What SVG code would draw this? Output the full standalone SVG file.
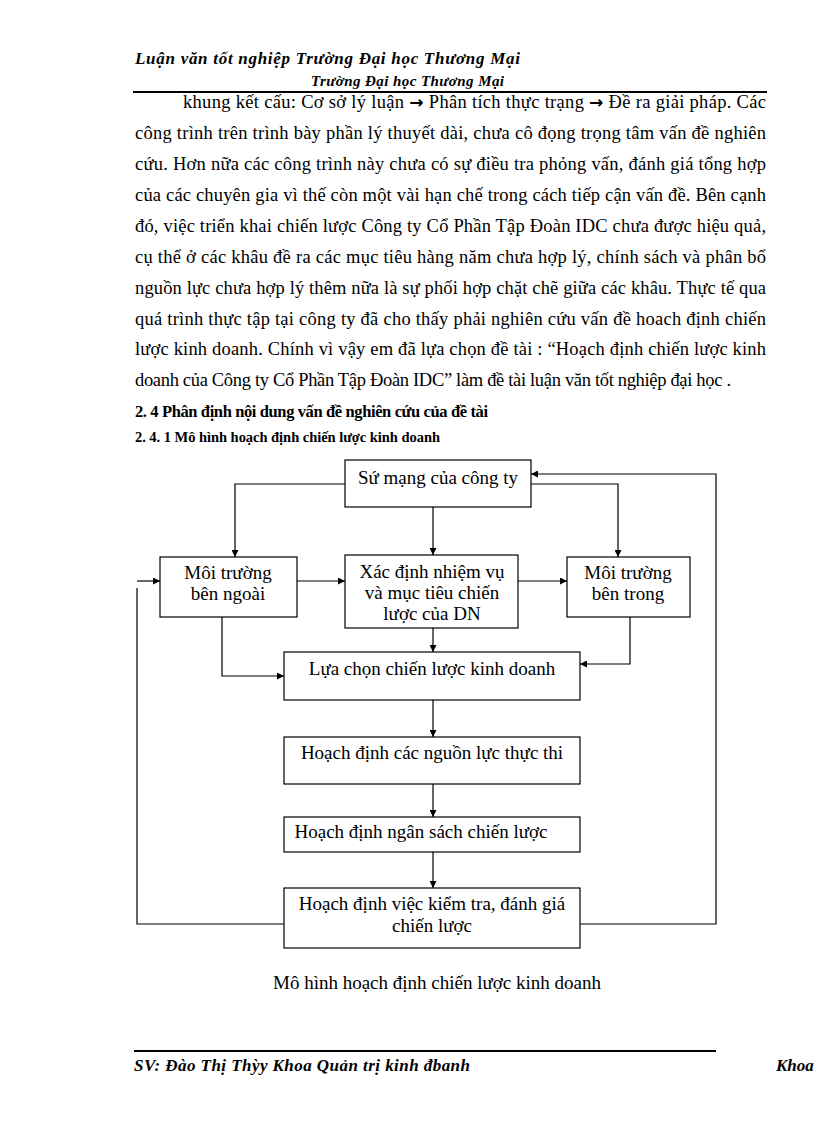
<svg xmlns="http://www.w3.org/2000/svg" width="816" height="1123" viewBox="0 0 816 1123">
<style>
.hd{font-family:"Liberation Serif",serif;font-weight:bold;font-style:italic;font-size:17px;fill:#000}
.hd2{font-family:"Liberation Serif",serif;font-weight:bold;font-style:italic;font-size:15px;fill:#000}
.bd{font-family:"Liberation Serif",serif;font-size:18.5px;fill:#000}
.ar{font-family:"DejaVu Sans",sans-serif;font-weight:bold;font-size:17px}
.h2{font-family:"Liberation Serif",serif;font-weight:bold;font-size:16.5px;fill:#000}
.h3{font-family:"Liberation Serif",serif;font-weight:bold;font-size:14.5px;fill:#000}
.bx{fill:#fff;stroke:#000;stroke-width:1.2}
.t{font-family:"Liberation Serif",serif;font-size:19px;fill:#000;text-anchor:middle}
.ln{fill:none;stroke:#000;stroke-width:1.2}
</style>
<defs>
<marker id="ar" viewBox="0 0 10 10" refX="10" refY="5" markerWidth="7" markerHeight="7" markerUnits="userSpaceOnUse" orient="auto"><path d="M0,0 L10,5 L0,10 z" fill="#000"/></marker>
</defs>
<rect width="816" height="1123" fill="#fff"/>
<g id="header">
<text class="hd" x="135" y="64" textLength="385" lengthAdjust="spacing">Luận văn tốt nghiệp Trường Đại học Thương Mại</text>
<text class="hd2" x="311" y="86" textLength="193" lengthAdjust="spacing">Trường Đại học Thương Mại</text>
<line x1="133" y1="92" x2="767" y2="92" stroke="#000" stroke-width="2"/>
</g>
<g id="body">
<text class="bd" x="183" y="108" textLength="583" lengthAdjust="spacing">khung kết cấu: Cơ sở lý luận <tspan class="ar">→</tspan> Phân tích thực trạng <tspan class="ar">→</tspan> Đề ra giải pháp. Các</text>
<text class="bd" x="135" y="139" textLength="631" lengthAdjust="spacing">công trình trên trình bày phần lý thuyết dài, chưa cô đọng trọng tâm vấn đề nghiên</text>
<text class="bd" x="135" y="170" textLength="631" lengthAdjust="spacing">cứu. Hơn nữa các công trình này chưa có sự điều tra phỏng vấn, đánh giá tổng hợp</text>
<text class="bd" x="135" y="201" textLength="631" lengthAdjust="spacing">của các chuyên gia vì thế còn một vài hạn chế trong cách tiếp cận vấn đề. Bên cạnh</text>
<text class="bd" x="135" y="232" textLength="631" lengthAdjust="spacing">đó, việc triển khai chiến lược Công ty Cổ Phần Tập Đoàn IDC chưa được hiệu quả,</text>
<text class="bd" x="135" y="263" textLength="631" lengthAdjust="spacing">cụ thể ở các khâu đề ra các mục tiêu hàng năm chưa hợp lý, chính sách và phân bổ</text>
<text class="bd" x="135" y="294" textLength="631" lengthAdjust="spacing">nguồn lực chưa hợp lý thêm nữa là sự phối hợp chặt chẽ giữa các khâu. Thực tế qua</text>
<text class="bd" x="135" y="325" textLength="631" lengthAdjust="spacing">quá trình thực tập tại công ty đã cho thấy phải nghiên cứu vấn đề hoach định chiến</text>
<text class="bd" x="135" y="355" textLength="631" lengthAdjust="spacing">lược kinh doanh. Chính vì vậy em đã lựa chọn đề tài : “Hoạch định chiến lược kinh</text>
<text class="bd" x="135" y="386" textLength="596" lengthAdjust="spacing">doanh của Công ty Cổ Phần Tập Đoàn IDC” làm đề tài luận văn tốt nghiệp đại học .</text>
<text class="h2" x="135" y="417" textLength="353" lengthAdjust="spacing">2. 4 Phân định nội dung vấn đề nghiên cứu của đề tài</text>
<text class="h3" x="135" y="442" textLength="305" lengthAdjust="spacing">2. 4. 1 Mô hình hoạch định chiến lược kinh doanh</text>
</g>
<g id="connectors">
<polyline class="ln" points="345,484 235,484 235,557" marker-end="url(#ar)"/>
<polyline class="ln" points="531,484 618,484 618,557" marker-end="url(#ar)"/>
<line class="ln" x1="433" y1="507" x2="433" y2="555" marker-end="url(#ar)"/>
<line class="ln" x1="297" y1="581" x2="345" y2="581" marker-end="url(#ar)"/>
<line class="ln" x1="518" y1="581" x2="567" y2="581" marker-end="url(#ar)"/>
<line class="ln" x1="433" y1="628" x2="433" y2="652" marker-end="url(#ar)"/>
<polyline class="ln" points="222,617 222,676 284,676" marker-end="url(#ar)"/>
<polyline class="ln" points="630,617 630,664 580,664" marker-end="url(#ar)"/>
<line class="ln" x1="433" y1="700" x2="433" y2="737" marker-end="url(#ar)"/>
<line class="ln" x1="433" y1="784" x2="433" y2="817" marker-end="url(#ar)"/>
<line class="ln" x1="433" y1="852" x2="433" y2="888" marker-end="url(#ar)"/>
<polyline class="ln" points="284,924 137,924 137,588"/>
<line class="ln" x1="137" y1="581" x2="160" y2="581" marker-end="url(#ar)"/>
<polyline class="ln" points="580,924 716,924 716,474 531,474" marker-end="url(#ar)"/>
</g>
<g id="n1"><rect class="bx" x="345" y="460" width="186" height="47"/><text class="t" x="438" y="484">Sứ mạng của công ty</text></g>
<g id="n2"><rect class="bx" x="160" y="557" width="137" height="60"/><text class="t" x="228" y="579">Môi trường</text><text class="t" x="228" y="600">bên ngoài</text></g>
<g id="n3"><rect class="bx" x="345" y="555" width="173" height="73"/><text class="t" x="432" y="578">Xác định nhiệm vụ</text><text class="t" x="432" y="599">và mục tiêu chiến</text><text class="t" x="432" y="620">lược của DN</text></g>
<g id="n4"><rect class="bx" x="567" y="557" width="123" height="60"/><text class="t" x="628" y="579">Môi trường</text><text class="t" x="628" y="600">bên trong</text></g>
<g id="n5"><rect class="bx" x="284" y="652" width="296" height="48"/><text class="t" x="432" y="675">Lựa chọn chiến lược kinh doanh</text></g>
<g id="n6"><rect class="bx" x="284" y="737" width="296" height="47"/><text class="t" x="432" y="759">Hoạch định các nguồn lực thực thi</text></g>
<g id="n7"><rect class="bx" x="284" y="817" width="296" height="35"/><text class="t" x="421" y="838">Hoạch định ngân sách chiến lược</text></g>
<g id="n8"><rect class="bx" x="284" y="888" width="296" height="60"/><text class="t" x="432" y="910">Hoạch định việc kiểm tra, đánh giá</text><text class="t" x="432" y="932">chiến lược</text></g>
<g id="caption"><text class="t" x="437" y="989">Mô hình hoạch định chiến lược kinh doanh</text></g>
<g id="footer">
<line x1="134" y1="1051" x2="716" y2="1051" stroke="#000" stroke-width="2"/>
<text class="hd" x="134" y="1071" textLength="336" lengthAdjust="spacing">SV: Đào Thị Thỳy Khoa Quản trị kinh đbanh</text>
<text class="hd" x="776" y="1071">Khoa</text>
</g>
</svg>
